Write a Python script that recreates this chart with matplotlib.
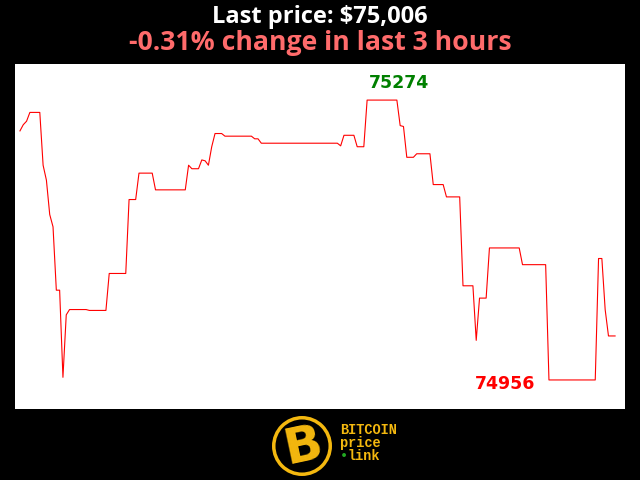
import matplotlib.pyplot as plt
from matplotlib.patches import Circle

# minutes over the last 3 hours and the price at each turning point
minutes = [0, 1, 2, 3, 6, 7, 8, 9, 10, 11, 12, 13, 14, 15, 20, 21, 26, 27, 32, 33,
           35, 36, 40, 41, 50, 51, 52, 54, 55, 56, 57, 58, 59, 61, 62, 70, 71, 72, 73,
           96, 97, 98, 101, 102, 104, 105, 114, 115, 116, 117, 119, 120, 124, 125, 128,
           129, 133, 134, 137, 138, 139, 141, 142, 151, 152, 159, 160, 174, 175, 176,
           177, 178, 180]
prices = [75239, 75246, 75250, 75260, 75260, 75200, 75183, 75144, 75130, 75058, 75058,
          74959, 75030, 75036, 75036, 75035, 75035, 75077, 75077, 75161, 75161, 75191,
          75191, 75172, 75172, 75200, 75196, 75196, 75206, 75205, 75200, 75221, 75236,
          75236, 75233, 75233, 75230, 75230, 75225, 75225, 75222, 75234, 75234, 75221,
          75221, 75274, 75274, 75245, 75244, 75209, 75209, 75213, 75213, 75178, 75178,
          75164, 75164, 75063, 75063, 75001, 75049, 75049, 75106, 75106, 75087, 75087,
          74956, 74956, 75094, 75094, 75036, 75006, 75006]

last_price = 75006
change_pct = -0.31
hours = 3

fig = plt.figure(figsize=(6.4, 4.8), dpi=100, facecolor='black')
ax = fig.add_axes([15/640, 1 - 409/480, 610/640, 345/480])
ax.set_facecolor('white')
ax.plot(minutes, prices, color='red', linewidth=0.8)
ax.set_xlim(-1.5, 183)
ax.set_ylim(74923, 75315)
ax.set_xticks([])
ax.set_yticks([])
for s in ax.spines.values():
    s.set_visible(False)

hi = max(prices)
lo = min(prices)
hi_x = minutes[prices.index(hi)]
lo_x = minutes[prices.index(lo)]
ax.annotate(str(hi), (hi_x, hi), xytext=(1, 6), textcoords='offset points',
            ha='left', va='bottom', color='green', fontsize=12.5, fontweight='bold',
            family='DejaVu Sans')
ax.annotate(str(lo), (lo_x, lo), xytext=(-10, -3), textcoords='offset points',
            ha='right', va='center', color='red', fontsize=12.5, fontweight='bold',
            family='DejaVu Sans')

fig.text(0.5, 1 - 17/480, f"Last price: ${last_price:,}", color='white',
         ha='center', va='center', fontsize=17, fontweight='bold', family='Open Sans')
fig.text(0.5, 1 - 43/480, f"{change_pct}% change in last {hours} hours", color='#ff6b6b',
         ha='center', va='center', fontsize=19.2, fontweight='bold', family='Open Sans')

# logo
gold = '#f4b80f'
cx, cy = 302 / 640, 1 - 446 / 480
fig.patches.append(Circle((302, 480 - 446), 30, transform=None, facecolor=gold,
                          edgecolor='none'))
fig.patches.append(Circle((302, 480 - 446), 26.5, transform=None, facecolor='black',
                          edgecolor='none'))
fig.text(cx + 0.002, cy, "B", color=gold, ha='center', va='center', fontsize=36,
         fontweight='bold', family='DejaVu Sans', rotation=12)
fig.text(340 / 640, 1 - 430 / 480, "BITCOIN", color=gold, ha='left', va='center',
         fontsize=9.8, fontweight='bold', family='Liberation Mono')
fig.text(340 / 640, 1 - 443 / 480, "price", color=gold, ha='left', va='center',
         fontsize=9.8, fontweight='bold', family='Liberation Mono')
fig.text(340 / 640, 1 - 456 / 480, "\u2022", color='#22aa22', ha='left', va='center',
         fontsize=9.8, fontweight='bold', family='Liberation Mono')
fig.text(348 / 640, 1 - 456 / 480, "link", color=gold, ha='left', va='center',
         fontsize=9.8, fontweight='bold', family='Liberation Mono')

fig.savefig('out.png', dpi=100, facecolor='black')
